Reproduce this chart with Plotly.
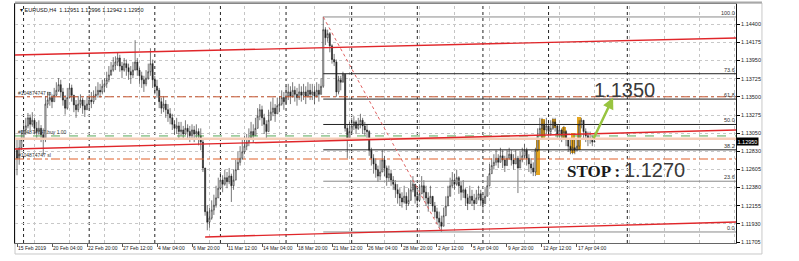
import plotly.graph_objects as go

# ---------------- data ----------------
FIRST_OPEN = 1.1284
CLOSE = [
1.1274,1.1287,1.1297,1.1309,1.1314, 1.1324,1.1316,1.1321,1.1311,1.1307,
1.1311,1.1303,1.1297,1.1341,1.1346, 1.1349,1.1344,1.1352,1.1358,1.1365,
1.1356,1.1346,1.1336,1.1349,1.1361, 1.1352,1.1340,1.1334,1.1341,1.1346,
1.1339,1.1334,1.1341,1.1346,1.1344, 1.1351,1.1353,1.1358,1.1356,1.1363,
1.1366,1.1371,1.1377,1.1383,1.1389, 1.1393,1.1398,1.1388,1.1383,1.1391,
1.1386,1.1381,1.1377,1.1383,1.1393, 1.1383,1.1376,1.1371,1.1366,1.1373,
1.1381,1.1391,1.1371,1.1363,1.1358, 1.1344,1.1336,1.1341,1.1334,1.1329,
1.1324,1.1316,1.1311,1.1314,1.1307, 1.1309,1.1304,1.1311,1.1307,1.1302,
1.1309,1.1304,1.1307,1.1302,1.1294, 1.1262,1.1208,1.1195,1.1200,1.1210,
1.1216,1.1225,1.1237,1.1247,1.1242, 1.1250,1.1245,1.1252,1.1240,1.1247,
1.1260,1.1269,1.1274,1.1282,1.1289, 1.1294,1.1299,1.1307,1.1302,1.1311,
1.1326,1.1334,1.1324,1.1316,1.1307, 1.1321,1.1331,1.1336,1.1329,1.1339,
1.1341,1.1349,1.1344,1.1351,1.1356, 1.1351,1.1358,1.1353,1.1349,1.1356,
1.1352,1.1356,1.1351,1.1358,1.1353, 1.1356,1.1351,1.1358,1.1353,1.1363,
1.1433,1.1423,1.1428,1.1413,1.1396, 1.1393,1.1356,1.1371,1.1368,1.1378,
1.1311,1.1299,1.1307,1.1314,1.1319, 1.1311,1.1316,1.1321,1.1314,1.1309,
1.1307,1.1284,1.1274,1.1267,1.1260, 1.1252,1.1257,1.1272,1.1262,1.1250,
1.1255,1.1247,1.1242,1.1235,1.1230, 1.1225,1.1220,1.1227,1.1218,1.1222,
1.1235,1.1242,1.1227,1.1222,1.1230, 1.1240,1.1232,1.1225,1.1218,1.1227,
1.1215,1.1208,1.1200,1.1195,1.1190, 1.1203,1.1215,1.1227,1.1240,1.1247,
1.1242,1.1250,1.1240,1.1232,1.1235, 1.1225,1.1218,1.1227,1.1222,1.1218,
1.1225,1.1230,1.1222,1.1218,1.1227, 1.1240,1.1255,1.1265,1.1269,1.1274,
1.1269,1.1277,1.1272,1.1265,1.1274, 1.1279,1.1272,1.1267,1.1274,1.1262,
1.1272,1.1277,1.1284,1.1274,1.1267, 1.1262,1.1257,1.1284,1.1302,1.1311,
1.1316,1.1309,1.1314,1.1307,1.1311, 1.1319,1.1314,1.1304,1.1309,1.1302,
1.1307,1.1297,1.1289,1.1284,1.1287, 1.1284,1.1289,1.1316,1.1321,1.1307,
1.1302,1.1297,1.1299,1.1294,1.1295,
]
HIGH = [
1.1297,1.1299,1.1309,1.1319,1.1324, 1.1330,1.1328,1.1331,1.1324,1.1319,
1.1321,1.1315,1.1311,1.1351,1.1356, 1.1356,1.1353,1.1361,1.1368,1.1373,
1.1371,1.1361,1.1352,1.1361,1.1367, 1.1365,1.1351,1.1346,1.1351,1.1353,
1.1349,1.1346,1.1351,1.1353,1.1356, 1.1358,1.1363,1.1368,1.1366,1.1371,
1.1373,1.1381,1.1388,1.1393,1.1399, 1.1400,1.1405,1.1402,1.1393,1.1398,
1.1396,1.1391,1.1388,1.1393,1.1420, 1.1398,1.1386,1.1381,1.1376,1.1383,
1.1391,1.1410,1.1396,1.1376,1.1371, 1.1361,1.1349,1.1351,1.1346,1.1341,
1.1336,1.1329,1.1321,1.1324,1.1319, 1.1319,1.1314,1.1321,1.1316,1.1314,
1.1316,1.1314,1.1316,1.1311,1.1311, 1.1297,1.1262,1.1216,1.1213,1.1222,
1.1229,1.1240,1.1250,1.1257,1.1253, 1.1260,1.1257,1.1262,1.1255,1.1260,
1.1272,1.1282,1.1289,1.1297,1.1302, 1.1304,1.1311,1.1319,1.1316,1.1324,
1.1336,1.1341,1.1339,1.1329,1.1321, 1.1334,1.1344,1.1349,1.1341,1.1349,
1.1351,1.1358,1.1356,1.1363,1.1366, 1.1363,1.1368,1.1363,1.1361,1.1366,
1.1363,1.1366,1.1363,1.1368,1.1366, 1.1366,1.1363,1.1368,1.1366,1.1373,
1.1449,1.1436,1.1433,1.1430,1.1415, 1.1403,1.1396,1.1376,1.1376,1.1381,
1.1378,1.1316,1.1319,1.1324,1.1326, 1.1321,1.1324,1.1329,1.1324,1.1319,
1.1316,1.1309,1.1287,1.1279,1.1274, 1.1265,1.1272,1.1284,1.1277,1.1265,
1.1265,1.1260,1.1252,1.1247,1.1242, 1.1237,1.1232,1.1240,1.1232,1.1237,
1.1247,1.1252,1.1242,1.1237,1.1242, 1.1252,1.1247,1.1240,1.1232,1.1240,
1.1227,1.1220,1.1213,1.1208,1.1203, 1.1213,1.1227,1.1240,1.1250,1.1257,
1.1255,1.1260,1.1252,1.1245,1.1247, 1.1237,1.1230,1.1240,1.1235,1.1230,
1.1235,1.1240,1.1235,1.1230,1.1237, 1.1252,1.1267,1.1274,1.1279,1.1284,
1.1279,1.1287,1.1284,1.1277,1.1284, 1.1287,1.1284,1.1279,1.1284,1.1277,
1.1282,1.1287,1.1292,1.1287,1.1279, 1.1274,1.1269,1.1287,1.1311,1.1324,
1.1324,1.1321,1.1324,1.1319,1.1321, 1.1324,1.1324,1.1316,1.1316,1.1311,
1.1314,1.1309,1.1299,1.1297,1.1297, 1.1297,1.1299,1.1321,1.1324,1.1321,
1.1311,1.1307,1.1307,1.1302,1.1300,
]
LOW = [
1.1253,1.1266,1.1284,1.1294,1.1303, 1.1311,1.1309,1.1313,1.1304,1.1299,
1.1303,1.1294,1.1278,1.1294,1.1336, 1.1339,1.1336,1.1344,1.1351,1.1356,
1.1349,1.1339,1.1328,1.1334,1.1352, 1.1344,1.1331,1.1324,1.1331,1.1336,
1.1329,1.1325,1.1334,1.1336,1.1336, 1.1341,1.1346,1.1349,1.1349,1.1353,
1.1356,1.1361,1.1368,1.1376,1.1381, 1.1383,1.1388,1.1381,1.1373,1.1381,
1.1376,1.1371,1.1366,1.1373,1.1383, 1.1376,1.1366,1.1361,1.1356,1.1363,
1.1371,1.1376,1.1361,1.1353,1.1349, 1.1336,1.1329,1.1331,1.1324,1.1319,
1.1316,1.1309,1.1303,1.1304,1.1297, 1.1302,1.1297,1.1303,1.1297,1.1294,
1.1299,1.1294,1.1297,1.1290,1.1284, 1.1257,1.1203,1.1185,1.1188,1.1198,
1.1204,1.1213,1.1225,1.1235,1.1232, 1.1240,1.1237,1.1242,1.1220,1.1235,
1.1250,1.1260,1.1265,1.1272,1.1279, 1.1284,1.1289,1.1297,1.1293,1.1302,
1.1314,1.1321,1.1314,1.1304,1.1297, 1.1309,1.1321,1.1326,1.1319,1.1329,
1.1331,1.1339,1.1334,1.1341,1.1346, 1.1341,1.1349,1.1344,1.1339,1.1346,
1.1344,1.1346,1.1341,1.1349,1.1346, 1.1346,1.1341,1.1349,1.1344,1.1353,
1.1361,1.1414,1.1418,1.1405,1.1391, 1.1388,1.1350,1.1353,1.1358,1.1368,
1.1307,1.1274,1.1297,1.1304,1.1309, 1.1304,1.1309,1.1311,1.1304,1.1302,
1.1299,1.1277,1.1265,1.1255,1.1250, 1.1245,1.1247,1.1260,1.1252,1.1240,
1.1245,1.1240,1.1235,1.1225,1.1218, 1.1215,1.1213,1.1218,1.1210,1.1215,
1.1225,1.1232,1.1218,1.1213,1.1220, 1.1230,1.1222,1.1215,1.1208,1.1218,
1.1208,1.1200,1.1193,1.1188,1.1183, 1.1193,1.1203,1.1215,1.1227,1.1237,
1.1235,1.1240,1.1230,1.1222,1.1225, 1.1215,1.1210,1.1220,1.1215,1.1210,
1.1218,1.1222,1.1215,1.1210,1.1220, 1.1230,1.1242,1.1255,1.1260,1.1265,
1.1262,1.1269,1.1262,1.1257,1.1267, 1.1272,1.1265,1.1260,1.1267,1.1231,
1.1262,1.1269,1.1274,1.1265,1.1257, 1.1255,1.1252,1.1252,1.1282,1.1302,
1.1297,1.1302,1.1304,1.1299,1.1302, 1.1309,1.1307,1.1297,1.1299,1.1294,
1.1299,1.1289,1.1282,1.1279,1.1279, 1.1279,1.1282,1.1284,1.1311,1.1299,
1.1294,1.1289,1.1292,1.1289,1.1294,
]

# highlighted (orange) candle zones
HL_BAR = [238.0, 240.5, 245.5, 250.0, 254.0, 257.0]
HL_TOP = [1.1297, 1.1323, 1.1323, 1.1313, 1.1305, 1.1325]
HL_BOTTOM = [1.1253, 1.1297, 1.1311, 1.1299, 1.1281, 1.1284]

# time axis
XTICK_BARS = [0, 16, 32, 48, 64, 80, 96, 112, 128, 144, 160, 176, 192, 208, 224, 240, 256]
XTICK_TEXT = ["15 Feb 2019", "20 Feb 04:00", "22 Feb 20:00", "27 Feb 12:00", "4 Mar 04:00",
              "6 Mar 20:00", "11 Mar 12:00", "14 Mar 04:00", "18 Mar 20:00", "21 Mar 12:00",
              "26 Mar 04:00", "28 Mar 20:00", "2 Apr 12:00", "5 Apr 04:00", "9 Apr 20:00",
              "12 Apr 12:00", "17 Apr 04:00"]
GRID_BARS = [8 + 16 * k for k in range(21)]
WEEK_SEPARATORS = [3, 33, 63, 93, 123, 153, 183, 213, 243, 279]

# price axis
YTICK_VALS = [1.11705, 1.11930, 1.12155, 1.12380, 1.12605, 1.12830, 1.13050,
              1.13275, 1.13500, 1.13725, 1.13950, 1.14175, 1.14400]
YTICK_TEXT = ["1.11705", "1.11930", "1.12155", "1.12380", "1.12605", "1.12830", "1.13050",
              "1.13275", "1.13500", "1.13725", "1.13950", "1.14175", "1.14400"]
X_RANGE = [-0.914, 328.69]
Y_RANGE = [1.116927, 1.146472]

# channel lines (bar, price)
UPPER_X, UPPER_Y = [-0.914, 328.69], [1.14017, 1.14227]
MIDDLE_X, MIDDLE_Y = [-0.914, 328.69], [1.12855, 1.13090]
LOWER_X, LOWER_Y = [86.0, 328.69], [1.11767, 1.11953]

# Fibonacci retracement
FIB_START_BAR = 140
FIB_END_BAR = 194
FIB_HIGH = 1.14487
FIB_LOW = 1.11829
FIB_LEVELS = [0.0, 23.6, 38.2, 50.0, 61.8, 73.6, 100.0]
FIB_LABELS = ["0.0", "23.6", "38.2", "50.0", "61.8", "73.6", "100.0"]
FIB_COLORS = ["#8a8a8a", "#8a8a8a", "#222222", "#222222", "#222222", "#222222", "#8a8a8a"]

# order lines
TP_PRICE = 1.1350
BUY_PRICE = 1.13016
SL_PRICE = 1.12731
BID_LINE = 1.12980
LAST_PRICE = 1.12950
TICKET = "#104874747"

# arrow (tail -> head)
ARROW_TAIL = (263.3, 1.1297)
ARROW_HEAD = (272.5, 1.1349)

# ---------------- figure ----------------
OPEN = [FIRST_OPEN] + CLOSE[:-1]
HI = [max(h, o, c) for h, o, c in zip(HIGH, OPEN, CLOSE)]
LO = [min(l, o, c) for l, o, c in zip(LOW, OPEN, CLOSE)]
BARS = list(range(len(CLOSE)))

fig = go.Figure()

def hline(x, y, color, width=1.0, dash="solid"):
    fig.add_trace(go.Scatter(x=x, y=y, mode="lines", hoverinfo="skip",
                             line=dict(color=color, width=width, dash=dash)))

# pale bid line
hline(X_RANGE, [BID_LINE, BID_LINE], "#f6cdb8", 2.5)

# Fibonacci levels
for lev, col in zip(FIB_LEVELS, FIB_COLORS):
    p = FIB_LOW + (FIB_HIGH - FIB_LOW) * lev / 100.0
    hline([FIB_START_BAR, X_RANGE[1]], [p, p], col, 1.0)

# order lines
hline(X_RANGE, [TP_PRICE, TP_PRICE], "#c8552e", 1.0, "dashdot")
hline(X_RANGE, [SL_PRICE, SL_PRICE], "#e0602a", 1.0, "dashdot")
hline(X_RANGE, [BUY_PRICE, BUY_PRICE], "#58a858", 1.0, "dash")

# channel
hline(UPPER_X, UPPER_Y, "#e0262a", 1.4)
hline(MIDDLE_X, MIDDLE_Y, "#e0262a", 1.4)
hline(LOWER_X, LOWER_Y, "#e0262a", 1.4)

# fib trend line
hline([FIB_START_BAR, FIB_END_BAR], [FIB_HIGH, FIB_LOW], "#e06060", 1.0, "dot")

# orange highlights
fig.add_trace(go.Bar(x=HL_BAR, base=HL_BOTTOM,
                     y=[t - b for t, b in zip(HL_TOP, HL_BOTTOM)],
                     width=1.9, marker=dict(color="#e4a520", line=dict(width=0)),
                     hoverinfo="skip"))

# candles
fig.add_trace(go.Candlestick(
    x=BARS, open=OPEN, high=HI, low=LO, close=CLOSE,
    increasing=dict(line=dict(color="#1e1e1e", width=0.6), fillcolor="#ffffff"),
    decreasing=dict(line=dict(color="#1e1e1e", width=0.6), fillcolor="#1e1e1e"),
    whiskerwidth=0, hoverinfo="skip"))

shapes = []
for b in GRID_BARS:
    shapes.append(dict(type="line", xref="x", yref="paper", x0=b, x1=b, y0=0, y1=1,
                       layer="below", line=dict(color="#c4c4c4", width=1, dash="dot")))
for b in WEEK_SEPARATORS:
    shapes.append(dict(type="line", xref="x", yref="paper", x0=b, x1=b, y0=0, y1=1,
                       layer="below", line=dict(color="#222222", width=1, dash="dot")))
# window frame
shapes.append(dict(type="rect", xref="paper", yref="paper", x0=0, x1=1.036, y0=-0.046, y1=1.004,
                   line=dict(color="#c8c8c8", width=1), layer="below"))
shapes.append(dict(type="line", xref="paper", yref="paper", x0=0, x1=1.036, y0=1.006, y1=1.006,
                   line=dict(color="#a8a8a8", width=2)))

ann = []
ann.append(dict(xref="paper", yref="paper", x=0.004, y=0.995, xanchor="left", yanchor="top",
                text="▾ EURUSD,H4  1.12951 1.12996 1.12942 1.12950", showarrow=False,
                font=dict(size=5.5, color="#111", family="Liberation Sans")))
for lev, lab in zip(FIB_LEVELS, FIB_LABELS):
    p = FIB_LOW + (FIB_HIGH - FIB_LOW) * lev / 100.0
    ann.append(dict(x=X_RANGE[1], y=p, xanchor="right", yanchor="bottom", text=lab,
                    showarrow=False, borderpad=0, font=dict(size=5.5, color="#333")))
for p, lab in [(TP_PRICE, TICKET + " tp"), (BUY_PRICE, TICKET + " buy 1.00"), (SL_PRICE, TICKET + " sl")]:
    ann.append(dict(x=0, y=p, xanchor="left", yanchor="bottom", text=lab, showarrow=False,
                    borderpad=0, font=dict(size=5, color="#333")))
ann.append(dict(xref="paper", x=1.0, y=LAST_PRICE, xanchor="left", yanchor="middle",
                text="1.12950", showarrow=False, bgcolor="#000000", borderpad=0.5,
                font=dict(size=5.5, color="#ffffff")))
ann.append(dict(x=ARROW_HEAD[0], y=ARROW_HEAD[1], ax=ARROW_TAIL[0], ay=ARROW_TAIL[1],
                axref="x", ayref="y", text="", showarrow=True, arrowhead=2, arrowsize=0.9,
                arrowwidth=2.5, arrowcolor="#98c440"))
ann.append(dict(x=263.3, y=1.1359, xanchor="left", yanchor="middle", text="1.1350",
                showarrow=False, borderpad=0,
                font=dict(size=20, color="#3a3a3a", family="Liberation Sans")))
ann.append(dict(x=251.0, y=1.1258, xanchor="left", yanchor="middle", text="<b>STOP :</b>",
                showarrow=False, borderpad=0,
                font=dict(size=17, color="#1a1a1a", family="Liberation Serif")))
ann.append(dict(x=277.0, y=1.1259, xanchor="left", yanchor="middle", text="1.1270",
                showarrow=False, borderpad=0,
                font=dict(size=20, color="#3a3a3a", family="Liberation Sans")))

fig.update_layout(
    width=799, height=261, margin=dict(l=15, r=63, t=4, b=18, autoexpand=False),
    paper_bgcolor="white", plot_bgcolor="white", showlegend=False,
    font=dict(family="Liberation Sans", size=6, color="#222"),
    shapes=shapes, annotations=ann, bargap=0,
    xaxis=dict(range=X_RANGE, tickvals=XTICK_BARS, ticktext=XTICK_TEXT, tickangle=0,
               ticklabelposition="outside right", ticks="outside", ticklen=3,
               tickcolor="#555", showgrid=False, zeroline=False, showline=True,
               linecolor="#666", mirror=True, rangeslider=dict(visible=False),
               automargin=False, tickfont=dict(size=5, color="#222")),
    yaxis=dict(side="right", range=Y_RANGE, tickvals=YTICK_VALS, ticktext=YTICK_TEXT,
               ticks="outside", ticklen=3, tickcolor="#000", showgrid=True,
               gridcolor="#c8c8c8", griddash="dot", zeroline=False, showline=True,
               linecolor="#111", mirror=True, automargin=False,
               tickfont=dict(size=5.5, color="#222")),
)

fig.write_html("out.html")
